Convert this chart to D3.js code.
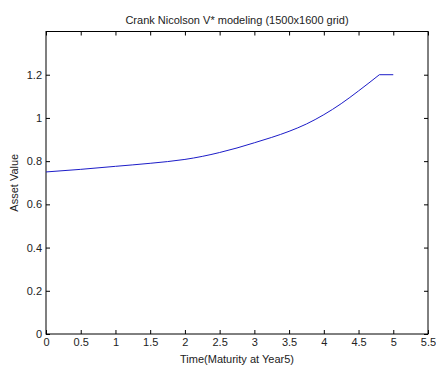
<!DOCTYPE html>
<html>
<head>
<meta charset="utf-8">
<script src="https://cdn.jsdelivr.net/npm/d3@7"></script>
<style>
  body { margin: 0; background: #fff; }
  svg text { font-family: "Liberation Sans", Arial, sans-serif; fill: #222; }
</style>
</head>
<body>
<div id="chart"></div>
<script>
// V* from the Crank-Nicolson run, sampled along time
const time  = [0, 0.5, 1, 1.5, 2, 2.25, 2.5, 2.75, 3, 3.25, 3.5, 3.75, 4, 4.25, 4.5, 4.8, 5];
const value = [0.750, 0.762, 0.776, 0.790, 0.808, 0.822, 0.840, 0.861, 0.885, 0.910, 0.938, 0.972, 1.015, 1.066, 1.125, 1.200, 1.200];

const xTicks = [0, 0.5, 1, 1.5, 2, 2.5, 3, 3.5, 4, 4.5, 5, 5.5];
const yTicks = [0, 0.2, 0.4, 0.6, 0.8, 1, 1.2];

const titleText = "Crank Nicolson V* modeling (1500x1600 grid)";
const xLabel = "Time(Maturity at Year5)";
const yLabel = "Asset Value";

const W = 436, H = 365;
const margin = { top: 31.5, right: 8, bottom: 31, left: 46 };

const svg = d3.select("#chart").append("svg")
    .attr("width", W)
    .attr("height", H);

const x = d3.scaleLinear().domain([0, 5.5]).range([margin.left, W - margin.right]);
const y = d3.scaleLinear().domain([0, 1.4]).range([H - margin.bottom, margin.top]);

const tickLen = 4;

// bottom / left axes with labels, ticks pointing inward
const gx = svg.append("g")
    .attr("transform", `translate(0,${H - margin.bottom})`)
    .call(d3.axisBottom(x).tickValues(xTicks).tickFormat(d3.format("")).tickSizeInner(-tickLen).tickSizeOuter(0).tickPadding(4));

const gy = svg.append("g")
    .attr("transform", `translate(${margin.left},0)`)
    .call(d3.axisLeft(y).tickValues(yTicks).tickFormat(d3.format("")).tickSizeInner(-tickLen).tickSizeOuter(0).tickPadding(4));

// top / right mirrors (ticks only)
const gxt = svg.append("g")
    .attr("transform", `translate(0,${margin.top})`)
    .call(d3.axisTop(x).tickValues(xTicks).tickFormat("").tickSizeInner(-tickLen).tickSizeOuter(0));

const gyr = svg.append("g")
    .attr("transform", `translate(${W - margin.right},0)`)
    .call(d3.axisRight(y).tickValues(yTicks).tickFormat("").tickSizeInner(-tickLen).tickSizeOuter(0));

[gx, gy, gxt, gyr].forEach(g => {
    g.select(".domain").remove();
    g.selectAll("line").attr("stroke", "#000");
    g.selectAll("text").attr("font-size", 11).attr("fill", "#333");
});

// box
svg.append("rect")
    .attr("x", margin.left)
    .attr("y", margin.top)
    .attr("width", W - margin.right - margin.left)
    .attr("height", H - margin.bottom - margin.top)
    .attr("fill", "none")
    .attr("stroke", "#000")
    .attr("stroke-width", 1);

// curve: smooth rise up to the cap, then flat to maturity
const pts = time.map((t, i) => [t, value[i]]);
const capIdx = value.indexOf(d3.max(value));
const line = d3.line().x(d => x(d[0])).y(d => y(d[1]));

svg.append("path")
    .datum(pts.slice(0, capIdx + 1))
    .attr("fill", "none")
    .attr("stroke", "#1c1cc8")
    .attr("stroke-width", 1)
    .attr("d", line.curve(d3.curveMonotoneX));

svg.append("path")
    .datum(pts.slice(capIdx))
    .attr("fill", "none")
    .attr("stroke", "#1c1cc8")
    .attr("stroke-width", 1)
    .attr("d", line.curve(d3.curveLinear));

// labels
svg.append("text")
    .attr("x", (margin.left + W - margin.right) / 2)
    .attr("y", 24)
    .attr("text-anchor", "middle")
    .attr("font-size", 11)
    .attr("fill", "#333")
    .text(titleText);

svg.append("text")
    .attr("x", (margin.left + W - margin.right) / 2)
    .attr("y", 363)
    .attr("text-anchor", "middle")
    .attr("font-size", 11)
    .attr("fill", "#333")
    .text(xLabel);

svg.append("text")
    .attr("transform", `translate(18,${(margin.top + H - margin.bottom) / 2}) rotate(-90)`)
    .attr("text-anchor", "middle")
    .attr("font-size", 11)
    .attr("fill", "#333")
    .text(yLabel);
</script>
</body>
</html>
